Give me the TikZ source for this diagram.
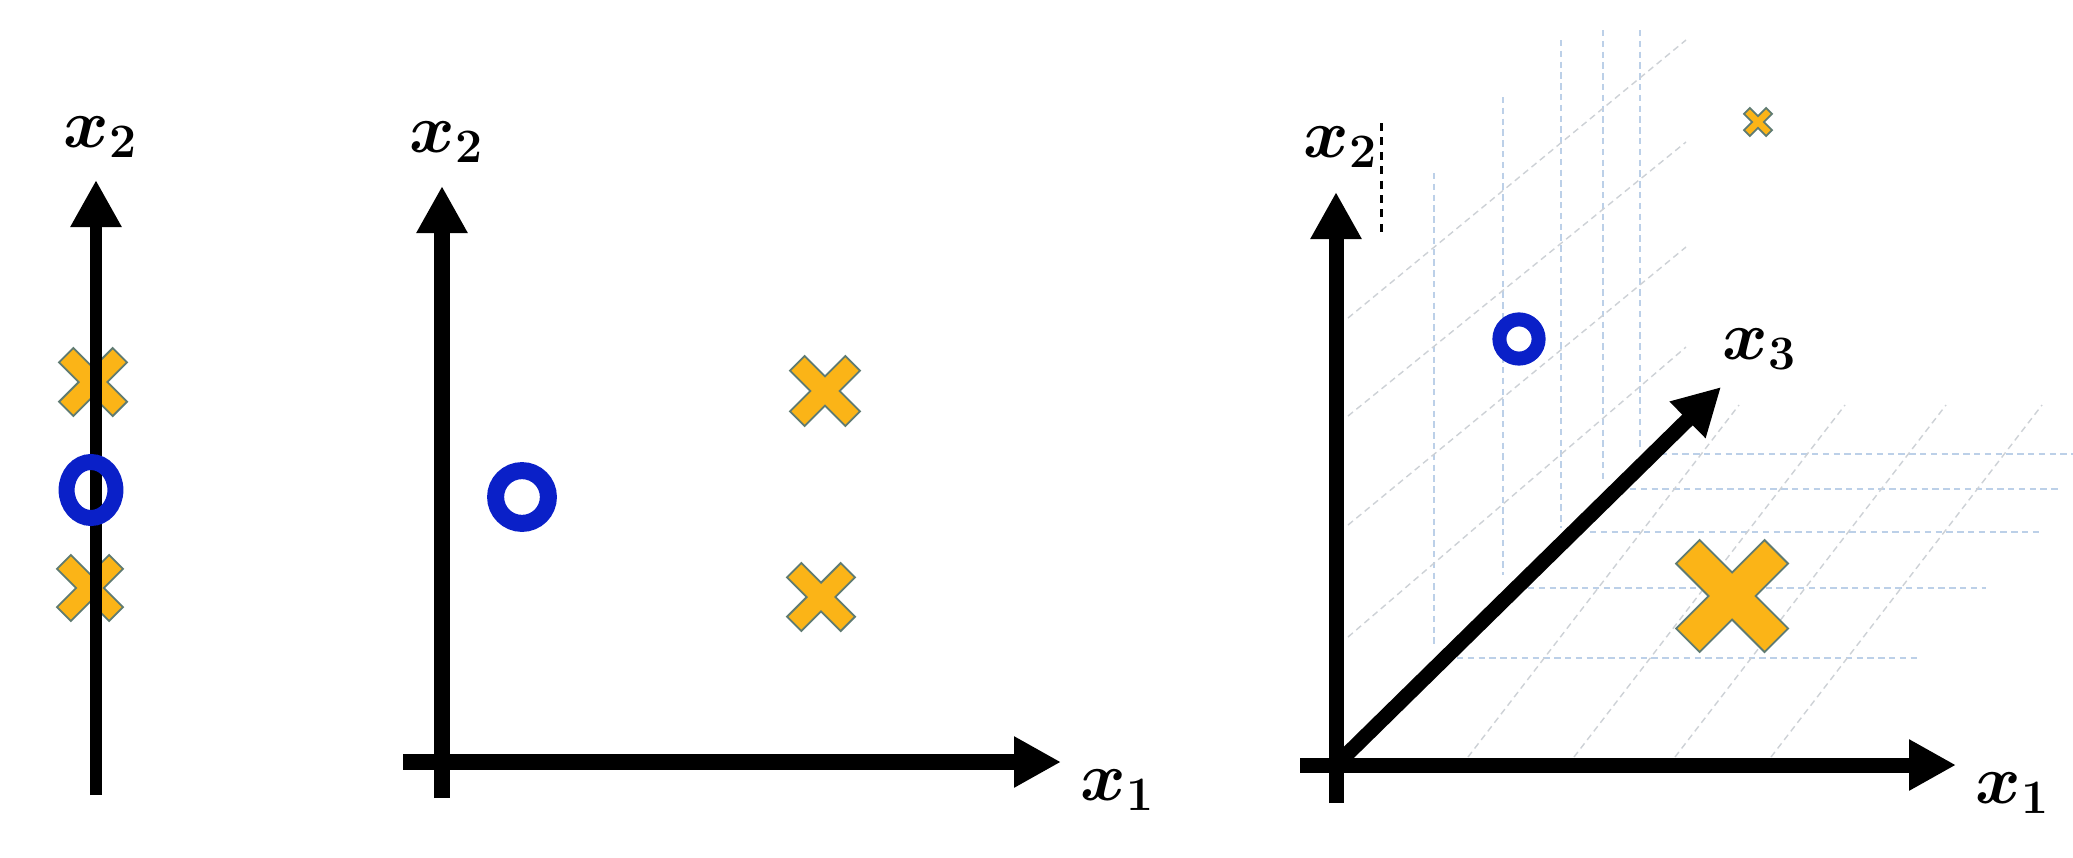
\documentclass[tikz,border=0pt]{standalone}
\usepackage{xcolor}
\usepackage{tikz}
\usetikzlibrary{arrows.meta, calc}
\definecolor{crossfill}{HTML}{FBB417}
\definecolor{crossline}{HTML}{5F7B72}
\definecolor{ringblue}{HTML}{0A20C8}
\definecolor{gridblue}{HTML}{BCD0E8}
\definecolor{gridgray}{HTML}{CDD1D6}

\tikzset{
  axisline/.style={line width=#1, -{Triangle[width=12pt, length=11.75pt]}},
  lbl/.style={font=\fontsize{18.5}{22}\selectfont\boldmath, inner sep=0pt},
  ringmark/.style={draw=ringblue, line width=#1},
  gridv/.style={gridblue, line width=0.35pt, dash pattern=on 1.6pt off 1.1pt},
  gridd/.style={gridgray, line width=0.35pt, dash pattern=on 1.6pt off 1.1pt},
  xmark/.pic={
    \draw[fill=crossfill, draw=crossline, line width=0.45pt]
      (0,0.42) -- (0.58,1) -- (1,0.58) -- (0.42,0) -- (1,-0.58) -- (0.58,-1)
      -- (0,-0.42) -- (-0.58,-1) -- (-1,-0.58) -- (-0.42,0) -- (-1,0.58)
      -- (-0.58,1) -- cycle;}
}

\begin{document}
\begin{tikzpicture}[x=0.25pt, y=-0.25pt]
    \fill[white] (0,0) rectangle (2073,857);
    \useasboundingbox (0,0) rectangle (2073,857);

    % one feature
    \coordinate (aTop) at (96,180);
    \coordinate (aEnd) at (96,795);
    \pic[scale=34] at (93,382) {xmark};
    \pic[scale=33] at (90,588) {xmark};
    \draw[axisline=3pt] (aEnd) -- (aTop);
    \draw[ringmark=4pt] (91,490) ellipse[x radius=6.1pt, y radius=7pt];
    \node[lbl] (aLbl) at (101,137) {$x_2$};

    % two features
    \coordinate (bTop) at (442,186);
    \coordinate (bEnd) at (442,798);
    \coordinate (bLeft) at (403,762);
    \coordinate (bRight) at (1061,762);
    \draw[axisline=4pt] (bEnd) -- (bTop);
    \draw[axisline=4pt] (bLeft) -- (bRight);
    \draw[ringmark=4.25pt] (522,497) circle[radius=6.6pt];
    \pic[scale=35] at (825,391) {xmark};
    \pic[scale=34] at (821,597) {xmark};
    \node[lbl] (bLblTwo) at (447,142) {$x_2$};
    \node[lbl] (bLblOne) at (1118,790) {$x_1$};

    % three features
    \foreach \gx/\gt/\gb in {1434/173/645, 1503/97/575, 1561/40/528, 1603/30/482, 1640/30/448}
      \draw[gridv] (\gx,\gt) -- (\gx,\gb);
    \foreach \ya/\yb in {318/40, 416/142, 525/247, 637/347}
      \draw[gridd] (1348,\ya) -- (1686,\yb);
    \foreach \gy/\gl/\gr in {454/1650/2073, 489/1630/2060, 532/1590/2040, 588/1528/1986, 658/1457/1920}
      \draw[gridv] (\gl,\gy) -- (\gr,\gy);
    \foreach \gx in {1468,1574,1675,1771}
      \draw[gridd] (\gx,757) -- ++(271,-352);

    \coordinate (cO) at (1336,765);
    \coordinate (cTop) at (1336,192);
    \coordinate (cEnd) at (1336,803);
    \coordinate (cLeft) at (1300,765);
    \coordinate (cRight) at (1956,765);
    \coordinate (cDeep) at (1721,387);
    \coordinate (cTickA) at (1381,123);
    \coordinate (cTickB) at (1381,235);
    \draw[axisline=3.75pt] (cEnd) -- (cTop);
    \draw[axisline=3.75pt] (cLeft) -- (cRight);
    \draw[axisline=3.75pt] (cO) -- (cDeep);
    \draw[line width=0.75pt, dash pattern=on 2pt off 1.6pt] (cTickA) -- (cTickB);
    \draw[ringmark=3.5pt] (1519,339) circle[radius=4.9pt];
    \pic[scale=14] at (1758,122) {xmark};
    \pic[scale=56] at (1732,596) {xmark};
    \node[lbl] (cLblTwo) at (1341,147) {$x_2$};
    \node[lbl] (cLblThree) at (1760,349) {$x_3$};
    \node[lbl] (cLblOne) at (2013,793) {$x_1$};
\end{tikzpicture}
\end{document}
